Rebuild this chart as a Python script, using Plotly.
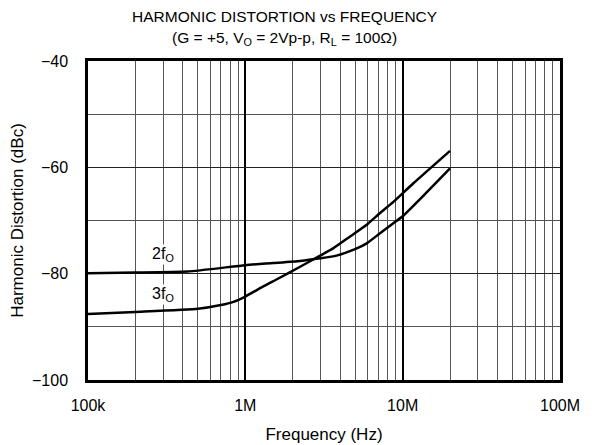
import plotly.graph_objects as go

# frequency (Hz) and harmonic distortion (dBc)
freq_2f = [1e5, 2e5, 4.3e5, 1e6, 1.5e6, 2.23e6, 3e6, 3.8e6, 4.98e6, 5.91e6, 7.18e6, 8.73e6, 1e7, 1.4e7, 2e7]
hd_2f = [-79.9, -79.8, -79.6, -78.4, -78.0, -77.6, -77.1, -76.6, -75.4, -74.3, -72.4, -70.5, -69.2, -64.9, -60.2]

freq_3f = [1e5, 2e5, 5e5, 7e5, 8.4e5, 1e6, 1.3e6, 1.6e6, 2.23e6, 2.91e6, 3.63e6, 4.63e6, 5.91e6,
           7.18e6, 8.73e6, 1.17e7, 2e7]
hd_3f = [-87.6, -87.2, -86.6, -85.9, -85.3, -84.3, -82.4, -81.0, -78.7, -76.8, -75.2, -73.0, -70.8,
         -68.6, -66.5, -63.0, -56.9]

major_ticks = [1e5, 1e6, 1e7, 1e8]
major_labels = ["100k", "1M", "10M", "100M"]
minor_ticks = [m * 10 ** d for d in (5, 6, 7) for m in range(2, 10)]

title_lines = [
    "HARMONIC DISTORTION vs FREQUENCY",
    "(G = +5, V<sub>O</sub> = 2Vp-p, R<sub>L</sub> = 100\u03a9)",
]

curve_line = dict(color="black", width=2.5, shape="spline", smoothing=0.5)

fig = go.Figure()
fig.add_trace(go.Scatter(x=freq_2f, y=hd_2f, mode="lines", line=curve_line, name="2fO"))
fig.add_trace(go.Scatter(x=freq_3f, y=hd_3f, mode="lines", line=curve_line, name="3fO"))

# curve labels sit on a white box so the 300k grid line breaks behind them
for label, yv in (("2f<sub>O</sub>", -76.4), ("3f<sub>O</sub>", -84.0)):
    fig.add_annotation(x=5.477, y=yv, xref="x", yref="y", text=label, showarrow=False,
                       bgcolor="white", borderpad=0, font=dict(size=16, color="black"))

# two-line title placed as paper annotations
for line, yp in zip(title_lines, (1.139, 1.069)):
    fig.add_annotation(x=0.416, y=yp, xref="paper", yref="paper", text=line, showarrow=False,
                       xanchor="center", yanchor="middle", font=dict(size=15.5, color="black"))

fig.update_xaxes(
    type="log", range=[5, 8], automargin=False,
    tickvals=major_ticks, ticktext=major_labels,
    showgrid=True, gridcolor="black", gridwidth=2,
    minor=dict(tickvals=minor_ticks, showgrid=True, gridcolor="#555", gridwidth=1, ticklen=0),
    showline=True, linecolor="black", linewidth=2.5, mirror=True,
    ticks="", zeroline=False, ticklabelstandoff=9,
    title=dict(text="Frequency (Hz)", font=dict(size=17, color="black"), standoff=16),
    tickfont=dict(size=16, color="black"),
)
fig.update_yaxes(
    range=[-100, -40], automargin=False,
    tickvals=[-100, -80, -60, -40],
    ticktext=["\u2212100", "\u221280", "\u221260", "\u221240"],
    showgrid=True, gridcolor="#222", gridwidth=1,
    minor=dict(tickvals=[-90, -70, -50], showgrid=True, gridcolor="#555", gridwidth=1, ticklen=0),
    showline=True, linecolor="black", linewidth=2.5, mirror=True,
    ticks="", zeroline=False, ticklabelstandoff=14,
    title=dict(text="Harmonic Distortion (dBc)", font=dict(size=17, color="black"), standoff=14),
    tickfont=dict(size=16, color="black"),
)

fig.update_layout(
    width=588, height=437,
    margin=dict(l=80, r=36, t=53, b=65),
    paper_bgcolor="white", plot_bgcolor="white",
    font=dict(family="Liberation Sans, Arial, sans-serif", color="black"),
    showlegend=False,
)

fig.write_html("out.html")
